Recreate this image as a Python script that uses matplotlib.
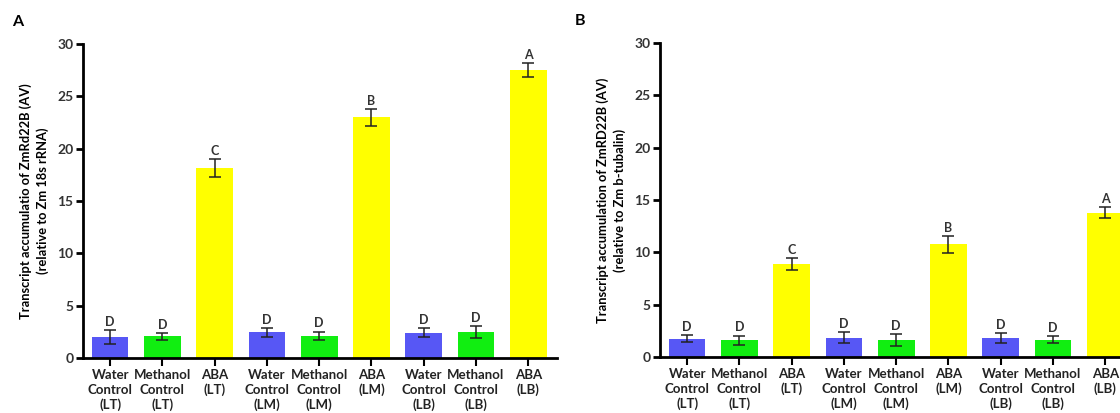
import matplotlib
matplotlib.use('Agg')
import matplotlib.pyplot as plt

plt.rcParams['font.family'] = ['Lato', 'DejaVu Sans']

groups = ['Water\nControl\n(LT)', 'Methanol\nControl\n(LT)', 'ABA\n(LT)',
          'Water\nControl\n(LM)', 'Methanol\nControl\n(LM)', 'ABA\n(LM)',
          'Water\nControl\n(LB)', 'Methanol\nControl\n(LB)', 'ABA\n(LB)']
bar_colors = ['#5757F5', '#11EE11', '#FFFF00'] * 3

# panel A: relative to Zm 18s rRNA
a_mean = [2.0, 2.07, 18.15, 2.45, 2.13, 23.0, 2.42, 2.48, 27.5]
a_err = [0.65, 0.35, 0.85, 0.45, 0.4, 0.8, 0.45, 0.55, 0.7]
a_sig = ['D', 'D', 'C', 'D', 'D', 'B', 'D', 'D', 'A']

# panel B: relative to Zm b-tubalin
b_mean = [1.75, 1.6, 8.9, 1.85, 1.63, 10.75, 1.79, 1.66, 13.8]
b_err = [0.35, 0.45, 0.55, 0.5, 0.55, 0.8, 0.5, 0.37, 0.55]
b_sig = ['D', 'D', 'C', 'D', 'D', 'B', 'D', 'D', 'A']

W, H = 1120, 413
fig = plt.figure(figsize=(W / 100, H / 100), dpi=100)


def px_axes(left, top, right, bottom):
    return fig.add_axes([left / W, 1 - bottom / H, (right - left) / W,
                         (bottom - top) / H])


def draw_panel(ax, mean, err, sig, ylab):
    x = list(range(len(mean)))
    ax.bar(x, mean, width=0.7, color=bar_colors, zorder=2)
    ax.errorbar(x, mean, yerr=err, fmt='none', ecolor='#222222',
                elinewidth=1.1, capsize=4.5, capthick=1.1, zorder=3)
    for xi, m, e, s in zip(x, mean, err, sig):
        ax.annotate(s, (xi, m + e), xytext=(0, 1.5), textcoords='offset points',
                    ha='center', va='bottom', fontsize=9, fontweight='bold',
                    color='#333333')
    ax.set_xlim(-0.52, 8.55)
    ax.set_ylim(0, 30)
    ax.set_yticks([0, 5, 10, 15, 20, 25, 30])
    ax.set_xticks(x)
    ax.set_xticklabels(groups, fontsize=9.5, fontweight='bold',
                       color='#222222', linespacing=1.25)
    for lab in ax.get_yticklabels():
        lab.set_fontweight('bold')
        lab.set_fontsize(10)
        lab.set_color('#333333')
    ax.spines['top'].set_visible(False)
    ax.spines['right'].set_visible(False)
    ax.spines['left'].set_linewidth(2)
    ax.spines['bottom'].set_linewidth(2)
    ax.tick_params(axis='y', length=5, width=2, pad=2)
    ax.tick_params(axis='x', length=6, width=1.5, pad=2)
    ax.set_ylabel(ylab, fontsize=9.3, fontweight='bold', labelpad=6,
                  linespacing=1.35)


ax_a = px_axes(83, 44, 557, 358)
draw_panel(ax_a, a_mean, a_err, a_sig,
           'Transcript accumulatio of ZmRd22B (AV)\n(relative to Zm 18s rRNA)')

ax_b = px_axes(660, 43, 1134, 357)
draw_panel(ax_b, b_mean, b_err, b_sig,
           'Transcript accumulation of ZmRD22B (AV)\n(relative to Zm b-tubalin)')

fig.text(12 / W, 1 - 22 / H, 'A', fontsize=11.5, fontweight='bold', va='center')
fig.text(575 / W, 1 - 21 / H, 'B', fontsize=11.5, fontweight='bold', va='center')

fig.savefig('out.png', dpi=100)
